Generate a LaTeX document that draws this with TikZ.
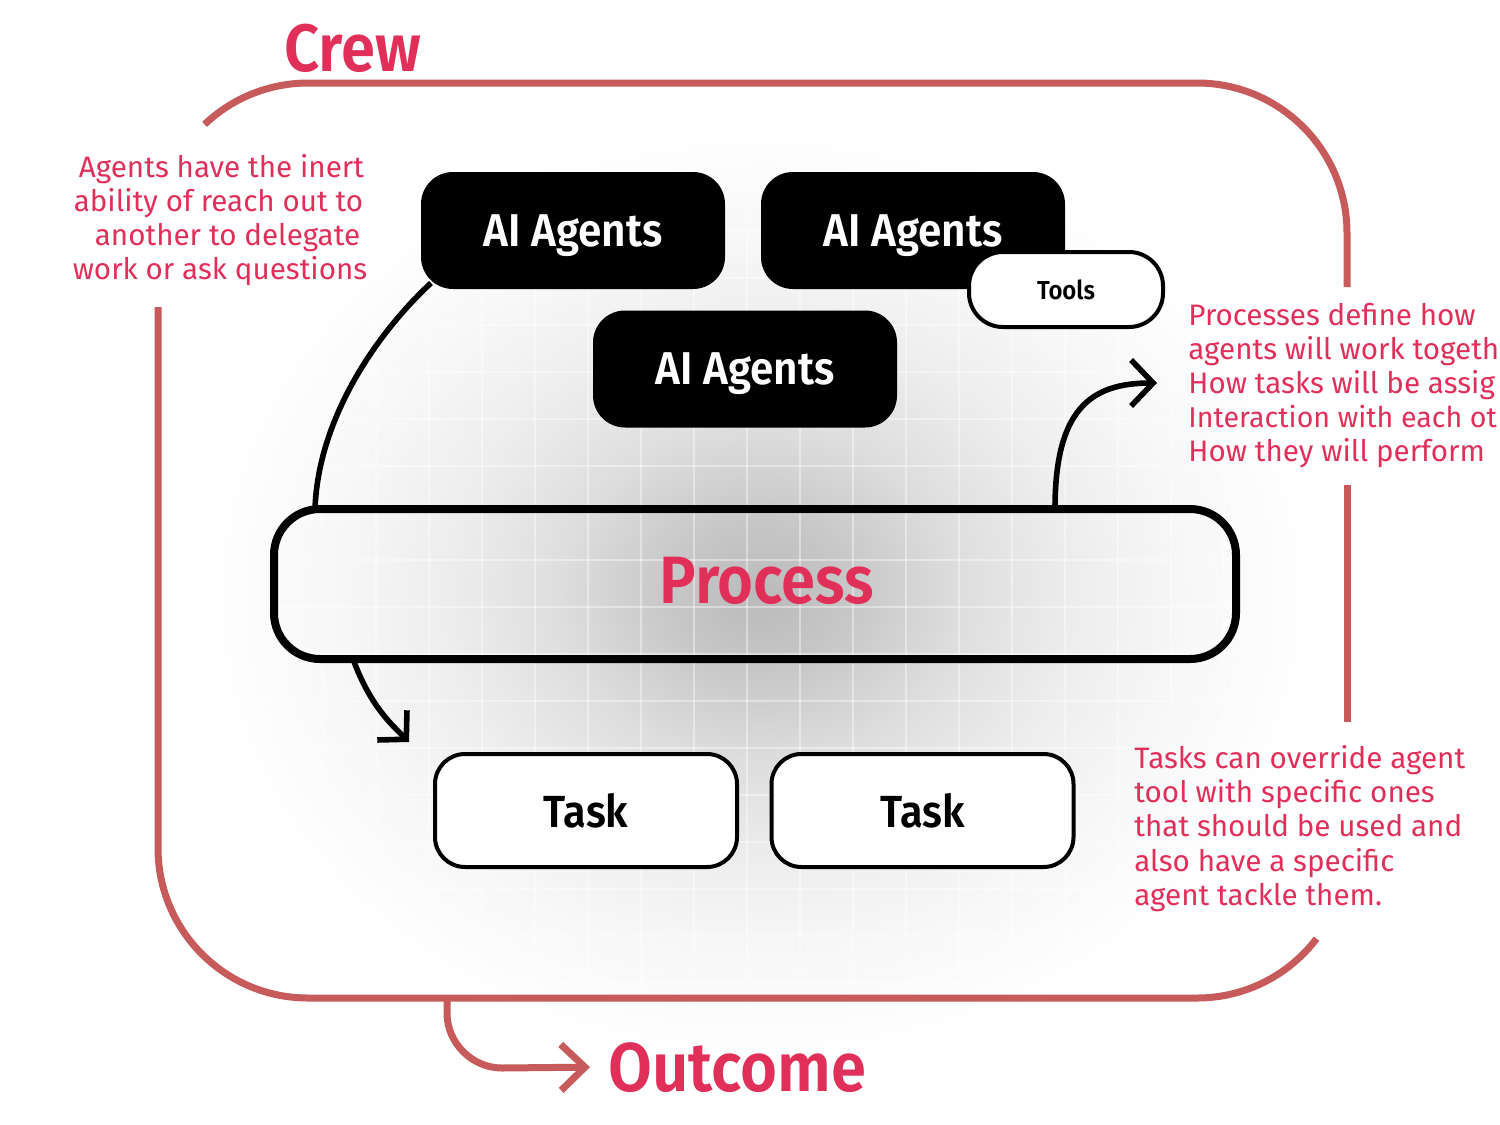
\documentclass[tikz,border=0pt]{standalone}
\usepackage{fontspec}
\setmainfont{Fira Sans}
\newfontfamily\headfont{Fira Sans}[FakeStretch=0.92, BoldFont={Fira Sans SemiBold}]
\usetikzlibrary{arrows.meta}
\definecolor{crimson}{HTML}{E0305A}
\definecolor{framered}{HTML}{C75B5B}
\pgfdeclareradialshading{bgglow}{\pgfpoint{0bp}{0bp}}{color(0bp)=(black!27); color(4bp)=(black!22); color(9bp)=(black!13); color(14bp)=(black!7); color(19bp)=(black!3); color(25bp)=(white); color(50bp)=(white)}
\begin{document}
\begin{tikzpicture}[x=0.5pt,y=-0.5pt,
  agentbox/.style={fill=black, rounded corners=16pt, minimum width=152pt, minimum height=58.5pt, inner sep=0pt, outer sep=0pt, text=white, text depth=0pt, font=\headfont\bfseries\fontsize{23}{27}\selectfont},
  taskbox/.style={draw=black, line width=2pt, fill=white, rounded corners=15pt, minimum width=151pt, minimum height=56.5pt, inner sep=0pt, outer sep=0pt, font=\headfont\bfseries\fontsize{22.5}{26}\selectfont},
  toolbox/.style={draw=black, line width=2pt, fill=white, rounded corners=17pt, minimum width=97pt, minimum height=37.5pt, inner sep=0pt, outer sep=0pt, font=\headfont\bfseries\fontsize{13}{15}\selectfont},
  procbox/.style={draw=black, line width=4pt, rounded corners=23pt, minimum width=481pt, minimum height=75pt, inner sep=0pt, outer sep=0pt},
  note/.style={text=crimson, font=\fontsize{14.8}{17}\selectfont, inner sep=0pt},
  title/.style={text=crimson, font=\headfont\bfseries\fontsize{33.5}{36}\selectfont, inner sep=0pt},
  frame/.style={draw=framered, line width=3.5pt},
  link/.style={draw=black, line width=2.8pt},
  gridline/.style={draw=white, line width=1pt, opacity=0.4}
]
\useasboundingbox (0,0) rectangle (1500,1125);
\fill[white] (0,0) rectangle (1500,1125);
\begin{scope}
\clip (0,0) rectangle (1500,1125);
% background glow and grid
\shade[shading=bgglow] (760,595) ellipse [x radius=560, y radius=470];
\begin{scope}
\clip (760,595) ellipse [x radius=560, y radius=470];
\foreach \x in {270,323,...,1290} \draw[gridline] (\x,120) -- (\x,1060);
\foreach \y in {137,184,...,1040} \draw[gridline] (190,\y) -- (1330,\y);
\end{scope}
% crew frame
\draw[frame] (204.6,124.4) arc[start angle=226.4, end angle=270, radius=150] -- (1197,83) arc[start angle=270, end angle=360, radius=150] -- (1347,287);
\draw[frame] (1347,485) -- (1347,722);
\draw[frame] (1316.5,938.7) arc[start angle=37.2, end angle=90, radius=150] -- (308,998) arc[start angle=90, end angle=180, radius=150] -- (158,307);
% titles
\node[title, anchor=base west] (crew) at (284,71) {Crew};
\node[title, anchor=base west, font=\headfont\bfseries\fontsize{34.5}{38}\selectfont] (outcome) at (608,1091) {Outcome};
% boxes
\node[agentbox] (agent1) at (573,230.5) {AI Agents};
\node[agentbox] (agent2) at (913,230.5) {AI Agents};
\node[toolbox] (tools) at (1066,289.5) {Tools};
\node[agentbox] (agent3) at (745,369) {AI Agents};
\node[procbox] (process) at (755,584) {};
\node[title, font=\headfont\bfseries\fontsize{33.5}{36}\selectfont] (proclabel) at (767,581) {Process};
\node[taskbox] (task1) at (586,810.5) {Task};
\node[taskbox] (task2) at (922.5,810.5) {Task};
% connectors
\coordinate (procout) at (1157,383);
\coordinate (taskin) at (409,742);
\coordinate (crewout) at (447,998);
\draw[link] ([xshift=5pt,yshift=3pt]agent1.south west) .. controls (375,335) and (318,420) .. ([xshift=20.5pt]process.north west);
\draw[link, -{Straight Barb[length=11pt,width=23pt]}] ([xshift=-90.5pt]process.north east) .. controls (1055,410) and (1090,383) .. (procout);
\draw[link, -{Straight Barb[length=10pt,width=21pt]}] ([xshift=39.5pt]process.south west) .. controls (370,705) and (390,723) .. (taskin);
\draw[frame, -{Straight Barb[length=12pt,width=23pt]}] (crewout) -- (447,1013) .. controls (447,1043) and (472,1068) .. (502,1068) -- ([xshift=-9pt]outcome.west);
% notes
\node[note, anchor=base] (l1) at (221.5,177) {Agents have the inert};
\node[note, anchor=base] (l2) at (218.5,211) {ability of reach out to};
\node[note, anchor=base] (l3) at (227.5,245) {another to delegate};
\node[note, anchor=base] (l4) at (220,279) {work or ask questions};
\node[note, anchor=base west] (r1) at (1188,325) {Processes define how};
\node[note, anchor=base west] (r2) at (1188,359) {agents will work togeth};
\node[note, anchor=base west] (r3) at (1188,393) {How tasks will be assig};
\node[note, anchor=base west, font=\fontsize{14.3}{17}\selectfont] (r4) at (1188,427) {Interaction with each ot};
\node[note, anchor=base west] (r5) at (1188,461) {How they will perform};
\node[note, anchor=base west] (t1) at (1134,768) {Tasks can override agent};
\node[note, anchor=base west] (t2) at (1134,802) {tool with specific ones};
\node[note, anchor=base west] (t3) at (1134,836.5) {that should be used and};
\node[note, anchor=base west] (t4) at (1134,871) {also have a specific};
\node[note, anchor=base west] (t5) at (1134,905) {agent tackle them.};
\end{scope}
\end{tikzpicture}
\end{document}
